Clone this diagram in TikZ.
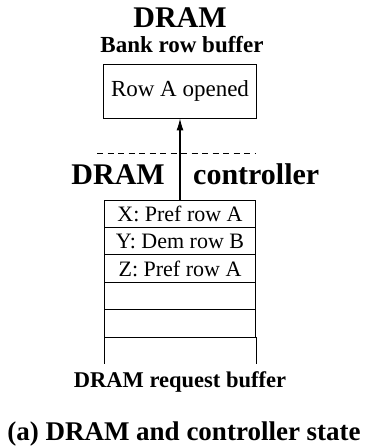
\documentclass[tikz,border=0pt]{standalone}
\usepackage{fontspec}
\setmainfont{Liberation Serif}
\usetikzlibrary{arrows.meta}

\begin{document}
\begin{tikzpicture}[x=1pt, y=1pt, node distance=27.4pt, rowbuf/.style={rectangle, draw, line width=0.9pt, minimum width=153pt, minimum height=54pt, font=\fontsize{23}{26}\selectfont}, slot/.style={rectangle, draw, line width=0.8pt, minimum width=151pt, minimum height=27.4pt, inner sep=0pt, font=\fontsize{22}{24}\selectfont}, head/.style={inner sep=0pt, font=\fontsize{30}{34}\selectfont\bfseries}, sublabel/.style={inner sep=0pt, font=\fontsize{23}{26}\selectfont\bfseries}]

\useasboundingbox (0,0) rectangle (369,448);

% bank side
\node[head, anchor=base] (dramtitle) at (180,420) {DRAM};
\node[sublabel, anchor=base] (banklabel) at (182,395) {Bank row buffer};
\node[rowbuf] (rowbuffer) at (180,357) {Row A opened};

\coordinate (sepleft) at (97,295);
\coordinate (sepright) at (255,295);
\draw[dash pattern=on 6pt off 4.5pt, line width=0.7pt] (sepleft) -- (sepright);

\node[head, anchor=base east] (ctrlleft) at (165,263) {DRAM};
\node[head, anchor=base west] (ctrlright) at (193,263) {controller};

% request queue, open at the bottom
\node[slot] (slotx) at (180,234.3) {X: Pref row A};
\node[slot, below of=slotx] (sloty) {Y: Dem row B};
\node[slot, below of=sloty] (slotz) {Z: Pref row A};
\node[slot, below of=slotz] (slotd) {};
\node[slot, below of=slotd] (slote) {};
\coordinate (qbotleft) at ([yshift=-27pt]slote.south west);
\coordinate (qbotright) at ([yshift=-27pt]slote.south east);
\draw[line width=0.8pt] (slote.south west) -- (qbotleft);
\draw[line width=0.8pt] (slote.south east) -- (qbotright);

\draw[-{Latex[length=12pt,width=7pt]}, line width=1.1pt] (slotx.north) -- (rowbuffer.south);

\node[sublabel, anchor=base, font=\fontsize{22.5}{25}\selectfont\bfseries] (queuelabel) at (180,60) {DRAM request buffer};
\node[head, anchor=base, font=\fontsize{27}{30}\selectfont\bfseries] (caption) at (184,8) {(a) DRAM and controller state};

\end{tikzpicture}
\end{document}
